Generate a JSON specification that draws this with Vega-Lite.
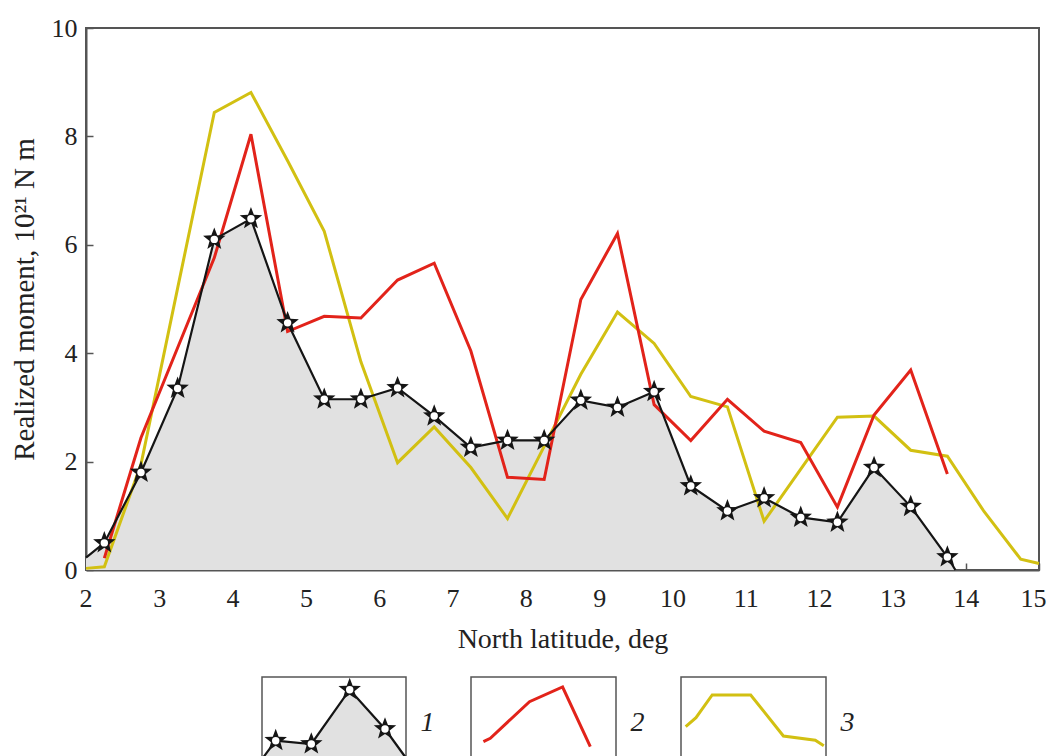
{
  "$schema": "https://vega.github.io/schema/vega-lite/v6.json",
  "background": "white",
  "padding": {"left": 9, "top": 14, "right": 4, "bottom": 0},
  "config": {"font": "Liberation Serif", "view": {"stroke": null}},
  "datasets": {
    "series": [
      {"series": "1", "lat": 2.0, "m": 0.23},
      {"series": "1", "lat": 2.25, "m": 0.5},
      {"series": "1", "lat": 2.75, "m": 1.8},
      {"series": "1", "lat": 3.25, "m": 3.35},
      {"series": "1", "lat": 3.75, "m": 6.1},
      {"series": "1", "lat": 4.25, "m": 6.48},
      {"series": "1", "lat": 4.75, "m": 4.56},
      {"series": "1", "lat": 5.25, "m": 3.15},
      {"series": "1", "lat": 5.75, "m": 3.15},
      {"series": "1", "lat": 6.25, "m": 3.36},
      {"series": "1", "lat": 6.75, "m": 2.84},
      {"series": "1", "lat": 7.25, "m": 2.26},
      {"series": "1", "lat": 7.75, "m": 2.39},
      {"series": "1", "lat": 8.25, "m": 2.39},
      {"series": "1", "lat": 8.75, "m": 3.13},
      {"series": "1", "lat": 9.25, "m": 3.0},
      {"series": "1", "lat": 9.75, "m": 3.29},
      {"series": "1", "lat": 10.25, "m": 1.55},
      {"series": "1", "lat": 10.75, "m": 1.09},
      {"series": "1", "lat": 11.25, "m": 1.33},
      {"series": "1", "lat": 11.75, "m": 0.97},
      {"series": "1", "lat": 12.25, "m": 0.88},
      {"series": "1", "lat": 12.75, "m": 1.89},
      {"series": "1", "lat": 13.25, "m": 1.17},
      {"series": "1", "lat": 13.75, "m": 0.24},
      {"series": "1", "lat": 13.86, "m": 0},
      {"series": "2", "lat": 2.25, "m": 0.22},
      {"series": "2", "lat": 2.75, "m": 2.44},
      {"series": "2", "lat": 3.25, "m": 4.1},
      {"series": "2", "lat": 3.75, "m": 5.76},
      {"series": "2", "lat": 4.25, "m": 8.04},
      {"series": "2", "lat": 4.75, "m": 4.4},
      {"series": "2", "lat": 5.25, "m": 4.68},
      {"series": "2", "lat": 5.75, "m": 4.65},
      {"series": "2", "lat": 6.25, "m": 5.35},
      {"series": "2", "lat": 6.75, "m": 5.66},
      {"series": "2", "lat": 7.25, "m": 4.04},
      {"series": "2", "lat": 7.75, "m": 1.71},
      {"series": "2", "lat": 8.25, "m": 1.67},
      {"series": "2", "lat": 8.75, "m": 4.99},
      {"series": "2", "lat": 9.25, "m": 6.21},
      {"series": "2", "lat": 9.75, "m": 3.05},
      {"series": "2", "lat": 10.25, "m": 2.39},
      {"series": "2", "lat": 10.75, "m": 3.15},
      {"series": "2", "lat": 11.25, "m": 2.56},
      {"series": "2", "lat": 11.75, "m": 2.35},
      {"series": "2", "lat": 12.25, "m": 1.16},
      {"series": "2", "lat": 12.75, "m": 2.86},
      {"series": "2", "lat": 13.25, "m": 3.69},
      {"series": "2", "lat": 13.75, "m": 1.77},
      {"series": "3", "lat": 2.0, "m": 0.03},
      {"series": "3", "lat": 2.25, "m": 0.06},
      {"series": "3", "lat": 2.75, "m": 1.95},
      {"series": "3", "lat": 3.25, "m": 5.2},
      {"series": "3", "lat": 3.75, "m": 8.44},
      {"series": "3", "lat": 4.25, "m": 8.81},
      {"series": "3", "lat": 4.75, "m": 7.55},
      {"series": "3", "lat": 5.25, "m": 6.25},
      {"series": "3", "lat": 5.75, "m": 3.84},
      {"series": "3", "lat": 6.25, "m": 1.98},
      {"series": "3", "lat": 6.75, "m": 2.64},
      {"series": "3", "lat": 7.25, "m": 1.89},
      {"series": "3", "lat": 7.75, "m": 0.95},
      {"series": "3", "lat": 8.25, "m": 2.28},
      {"series": "3", "lat": 8.75, "m": 3.61},
      {"series": "3", "lat": 9.25, "m": 4.76},
      {"series": "3", "lat": 9.75, "m": 4.18},
      {"series": "3", "lat": 10.25, "m": 3.2},
      {"series": "3", "lat": 10.75, "m": 3.01},
      {"series": "3", "lat": 11.25, "m": 0.9},
      {"series": "3", "lat": 11.75, "m": 1.86},
      {"series": "3", "lat": 12.25, "m": 2.82},
      {"series": "3", "lat": 12.75, "m": 2.84},
      {"series": "3", "lat": 13.25, "m": 2.21},
      {"series": "3", "lat": 13.75, "m": 2.1},
      {"series": "3", "lat": 14.25, "m": 1.08},
      {"series": "3", "lat": 14.75, "m": 0.2},
      {"series": "3", "lat": 15.0, "m": 0.12}
    ],
    "leg1": [
      {"px": 0, "py": 8, "star": false},
      {"px": 13.7, "py": 26.3, "star": true},
      {"px": 49.3, "py": 23, "star": true},
      {"px": 87.7, "py": 77.3, "star": true},
      {"px": 123, "py": 38, "star": true},
      {"px": 144, "py": 9, "star": false}
    ],
    "leg2": [
      {"px": 12.4, "py": 25.3},
      {"px": 19.3, "py": 28.7},
      {"px": 58.5, "py": 65.3},
      {"px": 91.6, "py": 80},
      {"px": 119.3, "py": 20.3}
    ],
    "leg3": [
      {"px": 4.7, "py": 40.3},
      {"px": 15, "py": 49.3},
      {"px": 31.2, "py": 72},
      {"px": 69.7, "py": 72},
      {"px": 102.4, "py": 31},
      {"px": 134.3, "py": 26.7},
      {"px": 142.8, "py": 21.3}
    ]
  },
  "bounds": "flush",
  "spacing": 107,
  "resolve": {"scale": {"x": "independent", "y": "independent"}},
  "vconcat": [
    {
      "width": 953,
      "height": 542,
      "view": {"stroke": "#555", "strokeWidth": 2},
      "data": {"name": "series"},
      "encoding": {
        "x": {
          "field": "lat", "type": "quantitative",
          "scale": {"domain": [2, 15], "nice": false, "zero": false},
          "axis": {
            "values": [2, 3, 4, 5, 6, 7, 8, 9, 10, 11, 12, 13, 14, 15],
            "title": "North latitude, deg", "grid": false,
            "tickSize": -7, "labelPadding": 22, "labelFlush": true, "labelFlushOffset": 7, "labelOverlap": false,
            "labelFontSize": 26, "titleFontSize": 28, "titleFontWeight": "normal",
            "titlePadding": 14, "domainColor": "#555", "domainWidth": 2,
            "tickColor": "#555", "tickWidth": 1.5, "labelColor": "#222", "titleColor": "#222",
            "labelFont": "Liberation Serif", "titleFont": "Liberation Serif"
          }
        },
        "y": {
          "field": "m", "type": "quantitative",
          "scale": {"domain": [0, 10], "nice": false},
          "axis": {
            "values": [0, 2, 4, 6, 8, 10],
            "title": "Realized moment, 10²¹ N m", "grid": false,
            "tickSize": -7, "labelPadding": 16, "labelFlush": false, "labelOverlap": false,
            "labelFontSize": 26, "titleFontSize": 29, "titleFontWeight": "normal",
            "titlePadding": 12, "domainColor": "#555", "domainWidth": 2,
            "tickColor": "#555", "tickWidth": 1.5, "labelColor": "#222", "titleColor": "#222",
            "labelFont": "Liberation Serif", "titleFont": "Liberation Serif"
          }
        }
      },
      "layer": [
        {"transform": [{"filter": "datum.series == '1'"}], "mark": {"type": "area", "color": "#e1e1e1", "opacity": 1}},
        {"transform": [{"filter": "datum.series == '3'"}], "mark": {"type": "line", "color": "#d2c012", "strokeWidth": 3}},
        {"transform": [{"filter": "datum.series == '2'"}], "mark": {"type": "line", "color": "#e2231a", "strokeWidth": 3}},
        {"transform": [{"filter": "datum.series == '1'"}], "mark": {"type": "line", "color": "#151515", "strokeWidth": 2.2}},
        {"transform": [{"filter": "datum.series == '1' && datum.lat > 2.1 && datum.lat < 13.8"}],
         "mark": {"type": "point", "shape": "M0,-1L0.25,-0.34L0.951,-0.309L0.4,0.13L0.588,0.809L0,0.42L-0.588,0.809L-0.4,0.13L-0.951,-0.309L-0.25,-0.34Z", "size": 560, "filled": true, "color": "#151515", "opacity": 1}},
        {"transform": [{"filter": "datum.series == '1' && datum.lat > 2.1 && datum.lat < 13.8"}],
         "mark": {"type": "point", "shape": "circle", "size": 55, "filled": true, "color": "white", "opacity": 1}}
      ]
    },
    {
      "bounds": "flush",
      "spacing": 65,
      "resolve": {"scale": {"x": "independent", "y": "independent"}},
      "hconcat": [
        {
          "width": 111, "height": 90,
          "data": {"values": [{"t": ""}]},
          "mark": {"type": "text"},
          "encoding": {"text": {"field": "t"}}
        },
        {
          "width": 144, "height": 90,
          "view": {"stroke": "#555", "strokeWidth": 1.5},
          "data": {"name": "leg1"},
          "encoding": {
            "x": {"field": "px", "type": "quantitative", "scale": {"domain": [0, 144], "nice": false, "zero": false}, "axis": null},
            "y": {"field": "py", "type": "quantitative", "scale": {"domain": [0, 90], "nice": false},
                  "axis": {"orient": "right", "title": "1", "labels": false, "ticks": false, "domain": false, "grid": false,
                           "titleAngle": 0, "titleFontStyle": "italic", "titleFontWeight": "normal", "titleFontSize": 28,
                           "titleColor": "#222", "titlePadding": 14, "titleAlign": "left", "titleBaseline": "middle", "titleFont": "Liberation Serif"}}
          },
          "layer": [
            {"mark": {"type": "area", "color": "#e1e1e1", "opacity": 1, "clip": true}},
            {"mark": {"type": "line", "color": "#151515", "strokeWidth": 2.2, "clip": true}},
            {"transform": [{"filter": "datum.star"}],
             "mark": {"type": "point", "shape": "M0,-1L0.25,-0.34L0.951,-0.309L0.4,0.13L0.588,0.809L0,0.42L-0.588,0.809L-0.4,0.13L-0.951,-0.309L-0.25,-0.34Z", "size": 560, "filled": true, "color": "#151515", "opacity": 1}},
            {"transform": [{"filter": "datum.star"}],
             "mark": {"type": "point", "shape": "circle", "size": 55, "filled": true, "color": "white", "opacity": 1}}
          ]
        },
        {
          "width": 145, "height": 90,
          "view": {"stroke": "#555", "strokeWidth": 1.5},
          "data": {"name": "leg2"},
          "encoding": {
            "x": {"field": "px", "type": "quantitative", "scale": {"domain": [0, 145], "nice": false, "zero": false}, "axis": null},
            "y": {"field": "py", "type": "quantitative", "scale": {"domain": [0, 90], "nice": false},
                  "axis": {"orient": "right", "title": "2", "labels": false, "ticks": false, "domain": false, "grid": false,
                           "titleAngle": 0, "titleFontStyle": "italic", "titleFontWeight": "normal", "titleFontSize": 28,
                           "titleColor": "#222", "titlePadding": 14, "titleAlign": "left", "titleBaseline": "middle", "titleFont": "Liberation Serif"}}
          },
          "mark": {"type": "line", "color": "#e2231a", "strokeWidth": 3}
        },
        {
          "width": 145, "height": 90,
          "view": {"stroke": "#555", "strokeWidth": 1.5},
          "data": {"name": "leg3"},
          "encoding": {
            "x": {"field": "px", "type": "quantitative", "scale": {"domain": [0, 145], "nice": false, "zero": false}, "axis": null},
            "y": {"field": "py", "type": "quantitative", "scale": {"domain": [0, 90], "nice": false},
                  "axis": {"orient": "right", "title": "3", "labels": false, "ticks": false, "domain": false, "grid": false,
                           "titleAngle": 0, "titleFontStyle": "italic", "titleFontWeight": "normal", "titleFontSize": 28,
                           "titleColor": "#222", "titlePadding": 14, "titleAlign": "left", "titleBaseline": "middle", "titleFont": "Liberation Serif"}}
          },
          "mark": {"type": "line", "color": "#d2c012", "strokeWidth": 3}
        }
      ]
    }
  ]
}
